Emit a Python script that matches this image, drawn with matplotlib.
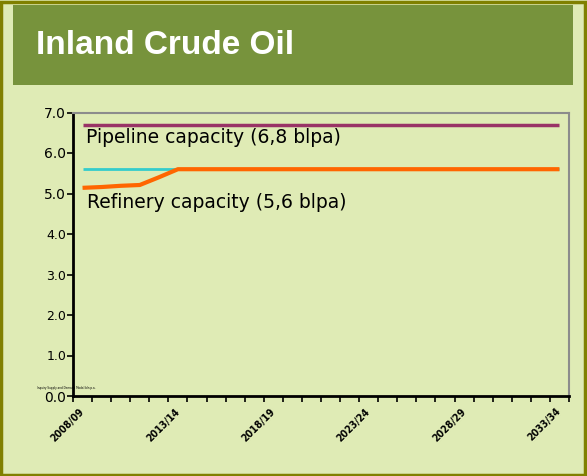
import matplotlib.pyplot as plt
from matplotlib.patches import Rectangle

# Categories (financial years) and series values
years = ['2008/09', '2009/10', '2010/11', '2011/12', '2012/13', '2013/14',
         '2014/15', '2015/16', '2016/17', '2017/18', '2018/19', '2019/20',
         '2020/21', '2021/22', '2022/23', '2023/24', '2024/25', '2025/26',
         '2026/27', '2027/28', '2028/29', '2029/30', '2030/31', '2031/32',
         '2032/33', '2033/34']
pipeline_cap = [6.7, 6.7, 6.7, 6.7, 6.7, 6.7, 6.7, 6.7, 6.7, 6.7, 6.7, 6.7, 6.7,
                6.7, 6.7, 6.7, 6.7, 6.7, 6.7, 6.7, 6.7, 6.7, 6.7, 6.7, 6.7, 6.7]
refinery_cap = [5.6, 5.6, 5.6, 5.6, 5.6, 5.6, 5.6, 5.6, 5.6, 5.6, 5.6, 5.6, 5.6,
                5.6, 5.6, 5.6, 5.6, 5.6, 5.6, 5.6, 5.6, 5.6, 5.6, 5.6, 5.6, 5.6]
demand = [5.14, 5.16, 5.19, 5.21, 5.40, 5.60, 5.60, 5.60, 5.60, 5.60, 5.60, 5.60, 5.60,
          5.60, 5.60, 5.60, 5.60, 5.60, 5.60, 5.60, 5.60, 5.60, 5.60, 5.60, 5.60, 5.60]
yticks = [0.0, 1.0, 2.0, 3.0, 4.0, 5.0, 6.0, 7.0]

bg = '#DFEBB5'
fig = plt.figure(figsize=(5.87, 4.76), dpi=100, facecolor=bg)

# outer border and title band
fig.patches.append(Rectangle((0.002, 0.002), 0.994, 0.994, transform=fig.transFigure,
                             facecolor='none', edgecolor='#808000', linewidth=2.5))
fig.patches.append(Rectangle((13 / 587, 1 - 85 / 476), 560 / 587, 80 / 476,
                             transform=fig.transFigure, facecolor='#77933C',
                             edgecolor='none'))
fig.text(36 / 587, 1 - 45 / 476, 'Inland Crude Oil', color='white', fontsize=24,
         fontweight='bold', family='Liberation Sans', va='center', ha='left')

ax = fig.add_axes([73 / 587, 1 - 396 / 476, 496 / 587, 283.5 / 476])
ax.set_facecolor('none')

x = [i + 0.5 for i in range(len(years))]
ax.plot(x, pipeline_cap, color='#993366', linewidth=2.5, solid_capstyle='butt')
ax.plot(x, refinery_cap, color='#33CCCC', linewidth=2, solid_capstyle='butt')
ax.plot(x, demand, color='#FF6600', linewidth=3, solid_capstyle='butt')

ax.set_xlim(0, len(years))
ax.set_ylim(0, 7)

ax.set_xticks(range(len(years) + 1))
ax.set_xticklabels([])
ax.set_xticks([x[i] for i in range(0, len(years), 5)], minor=True)
ax.set_xticklabels([years[i] for i in range(0, len(years), 5)], minor=True,
                   rotation=45, ha='right', va='center', rotation_mode='anchor',
                   fontsize=7.5, fontweight='bold', fontstretch='condensed')
ax.tick_params(axis='x', which='major', direction='out', length=4, width=1.2)
ax.tick_params(axis='x', which='minor', length=0, pad=10)

ax.set_yticks(yticks)
ax.set_yticklabels(['%.1f' % v for v in yticks])
ax.tick_params(axis='y', direction='out', length=4, width=1.2, pad=1)
for lbl, v in zip(ax.get_yticklabels(), yticks):
    lbl.set_fontsize(10 if v in (0.0, 5.0, 6.0, 7.0) else 9)

for s in ('left', 'bottom'):
    ax.spines[s].set_linewidth(2)
    ax.spines[s].set_color('black')
for s in ('top', 'right'):
    ax.spines[s].set_linewidth(1.5)
    ax.spines[s].set_color('#8C8C8C')

ax.text(0.7, 6.38, 'Pipeline capacity (6,8 blpa)', fontsize=13.5, va='center')
ax.text(0.75, 4.78, 'Refinery capacity (5,6 blpa)', fontsize=13.5, va='center')
fig.text(37 / 587, 1 - 388 / 476, 'Inquiry Supply and Demand Model bln p.a.',
         fontsize=2, va='center')

fig.savefig('out.png', dpi=100, facecolor=bg)
